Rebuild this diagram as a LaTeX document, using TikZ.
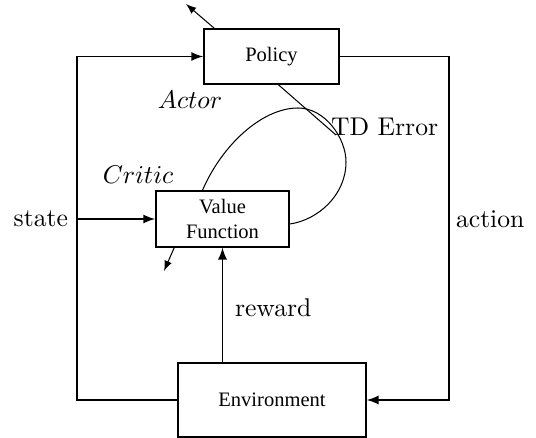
\documentclass[tikz,border=0pt]{standalone}
\usepackage{fontspec}
\newfontfamily\boxfont{Liberation Serif}
\usetikzlibrary{calc}
\begin{document}
\begin{tikzpicture}
	[x=0.39pt,y=-0.39pt,>=latex,
	 box/.style={rectangle,draw,semithick,font=\boxfont\fontsize{8}{9.4}\selectfont,align=center}]
	\useasboundingbox (0,0) rectangle (536,438);
	\node[box,name=pol,minimum width=52.7pt,minimum height=21.5pt]at(271.5,56.5){Policy};
	\node[box,name=vf,minimum width=51.9pt,minimum height=21.8pt]at(222.5,219){Value\\Function};
	\node[box,name=env,minimum width=73.3pt,minimum height=28.9pt]at(272,400){Environment};
	\coordinate (lft) at (77,219);
	\coordinate (rgt) at (449,219);
	\coordinate (out1) at (186,4);
	\coordinate (out2) at (164,271);
	\coordinate (td) at (336,135);
	% loop between agent and environment
	\draw[->,semithick] (env.west) -| (lft) |- (pol.west);
	\draw[->,semithick] (lft) -- (vf.west);
	\draw[->,semithick] (pol.east) -| (rgt) |- (env.east);
	\draw[->,semithick] (vf.south |- env.north) -- (vf.south);
	\node[anchor=east] at (lft) {state};
	\node[anchor=west] at ($(rgt)+(-2,0)$) {action};
	\node[anchor=west] at (226,308) {reward};
	% critic to actor
	\draw[thin] ($(vf.north)+(-20,0)$) .. controls (222,145) and (262,108) .. (298,108)
		.. controls (325,108) and (346,138) .. (346,162)
		.. controls (346,195) and (318,220) .. ($(vf.east)+(0,5)$);
	\draw[thin] ($(pol.south)+(7,0)$) -- (td);
	\node[anchor=west] at (322,127) {TD Error};
	\node at (190,100) {$Actor$};
	\node at (138,175) {$Critic$};
	\draw[->,thin] ($(pol.north west)+(11,0)$) -- (out1);
	\draw[->,thin] ($(vf.south west)+(19,0)$) -- (out2);
\end{tikzpicture}
\end{document}
